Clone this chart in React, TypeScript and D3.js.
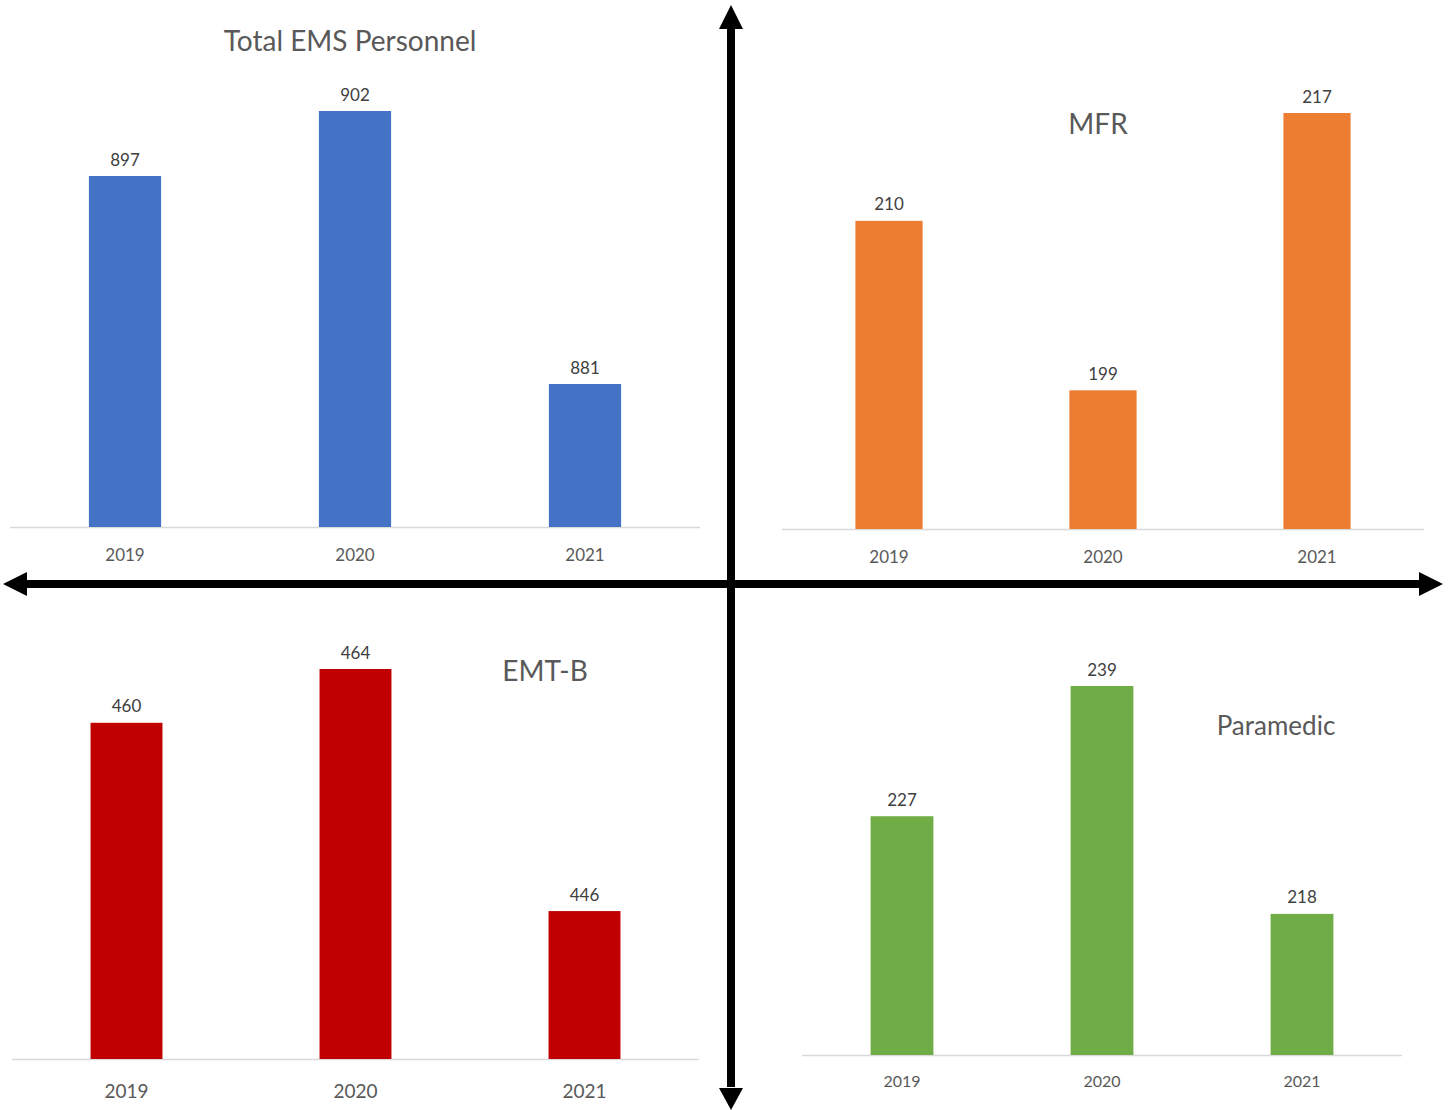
import React from "react";
import * as d3 from "d3";

const years = ["2019", "2020", "2021"];
const totalValues = [897, 902, 881];
const mfrValues = [210, 199, 217];
const emtValues = [460, 464, 446];
const paramedicValues = [227, 239, 218];

const titles = ["Total EMS Personnel", "MFR", "EMT-B", "Paramedic"];
const colors = ["#4472C4", "#ED7D31", "#C00000", "#70AD47"];

type Panel = {
  title: string;
  values: number[];
  color: string;
  xRange: [number, number];
  baseY: number;
  domain: [number, number];
  topY: number;
  titleX: number;
  titleY: number;
  titleSize: number;
  yearY: number;
  yearSize: number;
};

const panels: Panel[] = [
  { title: titles[0], values: totalValues, color: colors[0], xRange: [10, 700], baseY: 527, domain: [870, 902], topY: 111, titleX: 350, titleY: 40, titleSize: 28, yearY: 554, yearSize: 17 },
  { title: titles[1], values: mfrValues, color: colors[1], xRange: [782, 1424], baseY: 529, domain: [190, 217], topY: 113, titleX: 1098, titleY: 123, titleSize: 28, yearY: 556, yearSize: 17 },
  { title: titles[2], values: emtValues, color: colors[2], xRange: [12, 699], baseY: 1059, domain: [435, 464], topY: 669, titleX: 545, titleY: 670, titleSize: 28, yearY: 1090, yearSize: 19 },
  { title: titles[3], values: paramedicValues, color: colors[3], xRange: [802, 1402], baseY: 1055, domain: [205, 239], topY: 686, titleX: 1276, titleY: 725, titleSize: 26, yearY: 1080, yearSize: 16 },
];

const FONT = "Lato, 'Open Sans', sans-serif";

function BarPanel({ p }: { p: Panel }) {
  const pad = 0.686;
  const x = d3.scaleBand<string>().domain(years).range(p.xRange).paddingInner(pad).paddingOuter(pad / 2);
  const y = d3.scaleLinear().domain(p.domain).range([p.baseY, p.topY]);
  return (
    <g>
      <line x1={p.xRange[0]} x2={p.xRange[1]} y1={p.baseY + 0.5} y2={p.baseY + 0.5} stroke="#d9d9d9" strokeWidth={1.5} />
      {years.map((yr, i) => (
        <g key={yr}>
          <rect x={x(yr)} y={y(p.values[i])} width={x.bandwidth()} height={p.baseY - y(p.values[i])} fill={p.color} />
          <text x={(x(yr) as number) + x.bandwidth() / 2} y={y(p.values[i]) - 17} textAnchor="middle" dominantBaseline="central" fontSize={17} fill="#404040" fontFamily={FONT}>
            {p.values[i]}
          </text>
          <text x={(x(yr) as number) + x.bandwidth() / 2} y={p.yearY} textAnchor="middle" dominantBaseline="central" fontSize={p.yearSize} fill="#595959" fontFamily={FONT}>
            {yr}
          </text>
        </g>
      ))}
      <text x={p.titleX} y={p.titleY} textAnchor="middle" dominantBaseline="central" fontSize={p.titleSize} fill="#595959" fontFamily={FONT}>
        {p.title}
      </text>
    </g>
  );
}

export default function App() {
  const cx = 731;
  const cy = 584;
  const thick = 8;
  const head = 24;
  const headW = 24;
  return (
    <svg width={1452} height={1110} style={{ position: "absolute", left: 0, top: 0, background: "#fff" }}>
      <rect width={1452} height={1110} fill="#fff" />
      {panels.map((p) => (
        <BarPanel key={p.title} p={p} />
      ))}
      {/* vertical axis arrow */}
      <rect x={cx - thick / 2} y={5 + head - 1} width={thick} height={1110 - 5 - head * 2 + 2} fill="#000" />
      <polygon points={`${cx},5 ${cx - headW / 2},${5 + head} ${cx + headW / 2},${5 + head}`} fill="#000" />
      <polygon points={`${cx},1110 ${cx - headW / 2},${1110 - head + 2} ${cx + headW / 2},${1110 - head + 2}`} fill="#000" />
      {/* horizontal axis arrow */}
      <rect x={3 + head - 1} y={cy - thick / 2} width={1443 - 3 - head * 2 + 2} height={thick} fill="#000" />
      <polygon points={`3,${cy} ${3 + head},${cy - headW / 2} ${3 + head},${cy + headW / 2}`} fill="#000" />
      <polygon points={`1443,${cy} ${1443 - head},${cy - headW / 2} ${1443 - head},${cy + headW / 2}`} fill="#000" />
    </svg>
  );
}
